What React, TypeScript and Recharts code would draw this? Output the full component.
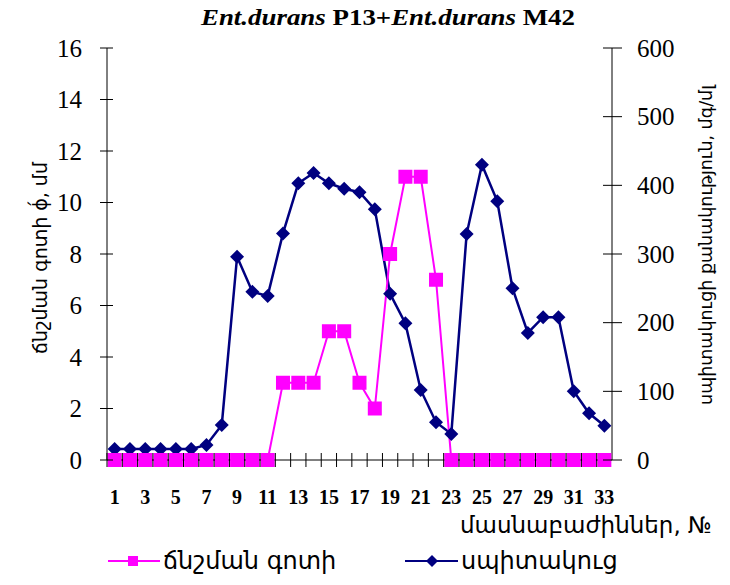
import { ComposedChart, Line, XAxis, YAxis } from 'recharts';

const fractions = [
  '1', '2', '3', '4', '5', '6', '7', '8', '9', '10', '11',
  '12', '13', '14', '15', '16', '17', '18', '19', '20', '21', '22',
  '23', '24', '25', '26', '27', '28', '29', '30', '31', '32', '33',
];

// lysis zone diameter, mm (left axis)
const zoneDiameter = [
  0, 0, 0, 0, 0, 0, 0, 0, 0, 0, 0,
  3, 3, 3, 5, 5, 3, 2, 8, 11, 11, 7,
  0, 0, 0, 0, 0, 0, 0, 0, 0, 0, 0,
];

// protein, right axis
const protein = [
  16, 16, 16, 16, 16, 16, 22, 51, 296, 245, 239,
  330, 403, 418, 403, 395, 390, 365, 242, 199, 102, 55,
  38, 329, 430, 377, 250, 185, 208, 208, 100, 68, 50,
];

const leftTicks = [0, 2, 4, 6, 8, 10, 12, 14, 16];
const rightTicks = [0, 100, 200, 300, 400, 500, 600];

const data = fractions.map((f, i) => ({ fraction: f, zone: zoneDiameter[i], protein: protein[i] }));

const W = 730;
const H = 585;
const PLOT_LEFT = 107;
const PLOT_RIGHT = 612;
const PLOT_TOP = 48;
const PLOT_BOTTOM = 460;
const BAND = (PLOT_RIGHT - PLOT_LEFT) / fractions.length;
const MARGIN = { top: PLOT_TOP, left: PLOT_LEFT - 60, right: W - PLOT_RIGHT - 60, bottom: H - PLOT_BOTTOM - 40 };

const PINK = '#FF00FF';
const NAVY = '#000080';
const SERIF = '"Liberation Serif", "Times New Roman", serif';
const ARM = '"DejaVu Sans", sans-serif';

function LeftTick({ y, payload }: any) {
  return (
    <g>
      <line x1={PLOT_LEFT - 7} x2={PLOT_LEFT + 6} y1={y} y2={y} stroke="#000" />
      <text x={82} y={y} dy="0.35em" textAnchor="end" fontFamily={SERIF} fontSize={25} fill="#000">
        {payload.value}
      </text>
    </g>
  );
}

function RightTick({ y, payload }: any) {
  return (
    <g>
      <line x1={PLOT_RIGHT - 9} x2={PLOT_RIGHT + 10} y1={y} y2={y} stroke="#000" />
      <text x={637} y={y} dy="0.35em" textAnchor="start" fontFamily={SERIF} fontSize={25} fill="#000">
        {payload.value}
      </text>
    </g>
  );
}

// category labels (every second fraction) plus tick marks between categories
function BottomTick({ x, payload, index }: any) {
  const edge = x - BAND / 2;
  return (
    <g>
      <line x1={edge} x2={edge} y1={PLOT_BOTTOM - 7} y2={PLOT_BOTTOM + 7} stroke="#000" />
      {index % 2 === 0 && (
        <text x={x} y={497} dy="0.35em" textAnchor="middle" fontFamily={SERIF} fontWeight="bold" fontSize={20} fill="#000">
          {payload.value}
        </text>
      )}
    </g>
  );
}

function SquareDot({ cx, cy, index }: any) {
  return <rect key={`sq-${index}`} x={cx - 7} y={cy - 7} width={14} height={14} fill={PINK} />;
}

function DiamondDot({ cx, cy, index }: any) {
  const r = 7;
  return (
    <polygon
      key={`dm-${index}`}
      points={`${cx},${cy - r} ${cx + r},${cy} ${cx},${cy + r} ${cx - r},${cy}`}
      fill={NAVY}
    />
  );
}

export default function App() {
  return (
    <div style={{ position: 'absolute', left: 0, top: 0, width: W, height: H, background: '#fff' }}>
      <ComposedChart width={W} height={H} data={data} margin={MARGIN}>
        <YAxis
          yAxisId="left"
          orientation="left"
          width={60}
          domain={[0, 16]}
          ticks={leftTicks}
          tickLine={false}
          axisLine={{ stroke: '#000' }}
          tick={<LeftTick />}
        />
        <YAxis
          yAxisId="right"
          orientation="right"
          width={60}
          domain={[0, 600]}
          ticks={rightTicks}
          tickLine={false}
          axisLine={{ stroke: '#000' }}
          tick={<RightTick />}
        />
        <XAxis
          dataKey="fraction"
          scale="band"
          height={40}
          interval={0}
          tickLine={false}
          axisLine={{ stroke: '#000' }}
          tick={<BottomTick />}
        />
        <Line
          yAxisId="right"
          dataKey="protein"
          stroke={NAVY}
          strokeWidth={2.5}
          dot={DiamondDot}
          activeDot={false}
          isAnimationActive={false}
        />
        <Line
          yAxisId="left"
          dataKey="zone"
          stroke={PINK}
          strokeWidth={2}
          dot={SquareDot}
          activeDot={false}
          isAnimationActive={false}
        />
      </ComposedChart>

      <svg width={W} height={H} style={{ position: 'absolute', left: 0, top: 0, pointerEvents: 'none' }}>
        <text
          x={388}
          y={25}
          textAnchor="middle"
          fontFamily={SERIF}
          fontWeight="bold"
          fontSize={23}
          fill="#000"
          transform="translate(388 0) scale(1.17 1) translate(-388 0)"
        >
          <tspan fontStyle="italic">Ent.durans</tspan>
          <tspan> P13+</tspan>
          <tspan fontStyle="italic">Ent.durans</tspan>
          <tspan> M42</tspan>
        </text>
        <text
          x={0}
          y={0}
          textAnchor="middle"
          dy="0.35em"
          fontFamily={ARM}
          fontSize={19}
          fill="#000"
          transform="translate(40 258) rotate(-90)"
        >
          ճնշման գոտի  ϕ́, մմ
        </text>
        <text
          x={0}
          y={0}
          textAnchor="middle"
          dy="0.35em"
          fontFamily={ARM}
          fontSize={17.5}
          fill="#000"
          transform="translate(706 245) rotate(-90)"
        >
          սպիտակուցի քանակություն, մգ/մլ
        </text>
        <text x={712} y={525} dy="0.35em" textAnchor="end" fontFamily={ARM} fontSize={23} fill="#000">
          մասնաբաժիններ, №
        </text>

        {/* legend */}
        <line x1={108} x2={160} y1={561} y2={561} stroke={PINK} strokeWidth={2} />
        <rect x={128} y={556} width={10} height={10} fill={PINK} />
        <text x={163} y={561} dy="0.35em" fontFamily={ARM} fontSize={24} fill="#000">
          ճնշման գոտի
        </text>
        <line x1={405} x2={458} y1={561} y2={561} stroke={NAVY} strokeWidth={2} />
        <polygon points="432,555 438,561 432,567 426,561" fill={NAVY} />
        <text x={461} y={561} dy="0.35em" fontFamily={ARM} fontSize={24} fill="#000">
          սպիտակուց
        </text>
      </svg>
    </div>
  );
}
